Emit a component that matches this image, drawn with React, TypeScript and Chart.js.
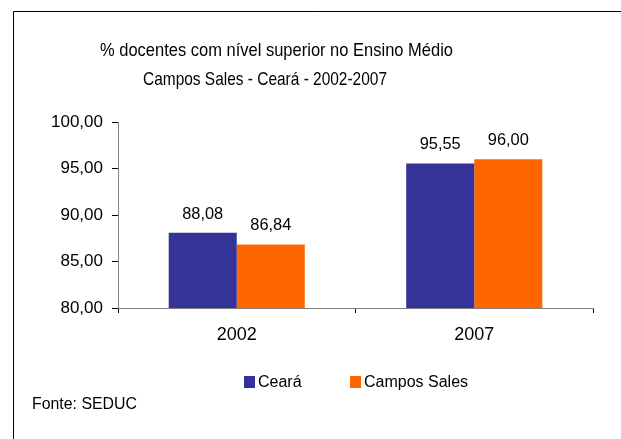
import React, { useEffect, useRef } from "react";
import { Chart, registerables } from "chart.js";

Chart.register(...registerables);

const categories = ["2002", "2007"];
const seriesNames = ["Ceará", "Campos Sales"];
const cearaValues = [88.08, 95.55];
const camposSalesValues = [86.84, 96.0];
const seriesColors = ["#333399", "#FF6600"];
const titleLines = [
  "% docentes com nível superior no Ensino Médio",
  "Campos Sales - Ceará - 2002-2007",
];
const sourceNote = "Fonte: SEDUC";
const yMin = 80;
const yMax = 100;
const yStep = 5;

const FONT = "'Liberation Sans', Arial, sans-serif";
const fmt = (v: number) => v.toFixed(2).replace(".", ",");

const decorPlugin = {
  id: "decor",
  beforeDraw(chart: any) {
    const ctx = chart.ctx;
    ctx.save();
    ctx.fillStyle = "#ffffff";
    ctx.fillRect(0, 0, chart.width, chart.height);
    ctx.strokeStyle = "#000000";
    ctx.lineWidth = 1;
    ctx.beginPath();
    ctx.moveTo(13.5, chart.height);
    ctx.lineTo(13.5, 11.5);
    ctx.lineTo(chart.width, 11.5);
    ctx.stroke();
    ctx.restore();
  },
  afterDatasetsDraw(chart: any) {
    const ctx = chart.ctx;
    ctx.save();
    ctx.fillStyle = "#000000";
    ctx.font = `17px ${FONT}`;
    ctx.textAlign = "center";
    ctx.textBaseline = "alphabetic";
    chart.data.datasets.forEach((ds: any, i: number) => {
      const meta = chart.getDatasetMeta(i);
      meta.data.forEach((el: any, j: number) => {
        ctx.fillText(fmt(ds.data[j]), el.x, el.y - 14, 41);
      });
    });
    ctx.restore();
  },
  afterDraw(chart: any) {
    const ctx = chart.ctx;
    ctx.save();
    ctx.fillStyle = "#000000";
    ctx.textBaseline = "alphabetic";
    ctx.textAlign = "left";
    // title
    ctx.font = `19px ${FONT}`;
    ctx.fillText(titleLines[0], 100, 56, 353);
    ctx.fillText(titleLines[1], 143, 85, 244);
    // legend
    ctx.font = `16px ${FONT}`;
    const legendX = [244, 350];
    chart.data.datasets.forEach((ds: any, i: number) => {
      ctx.fillStyle = ds.backgroundColor;
      ctx.fillRect(legendX[i], 376, 11, 12);
      ctx.fillStyle = "#000000";
      ctx.fillText(ds.label, legendX[i] + 14, 387);
    });
    // source
    ctx.font = `16px ${FONT}`;
    ctx.fillText(sourceNote, 32, 409, 105);
    ctx.restore();
  },
};

export default function App() {
  const ref = useRef<HTMLCanvasElement | null>(null);
  useEffect(() => {
    if (!ref.current) return;
    const chart = new Chart(ref.current, {
      type: "bar",
      data: {
        labels: categories,
        datasets: [
          {
            label: seriesNames[0],
            data: cearaValues,
            backgroundColor: seriesColors[0],
            categoryPercentage: 0.573,
            barPercentage: 1,
          },
          {
            label: seriesNames[1],
            data: camposSalesValues,
            backgroundColor: seriesColors[1],
            categoryPercentage: 0.573,
            barPercentage: 1,
          },
        ],
      },
      options: {
        responsive: false,
        animation: false,
        devicePixelRatio: 1,
        layout: { padding: { top: 122, right: 28, bottom: 91, left: 0 } },
        plugins: {
          legend: { display: false },
          title: { display: false },
          tooltip: { enabled: false },
        },
        scales: {
          x: {
            type: "category",
            offset: true,
            grid: {
              offset: true,
              drawOnChartArea: false,
              drawTicks: true,
              tickLength: 5,
              color: "#000000",
            },
            border: { color: "#808080", width: 1 },
            ticks: {
              color: "#000000",
              font: { size: 18, family: FONT },
              padding: 11,
            },
            afterFit: (s: any) => {
              s.height = 40;
            },
          },
          y: {
            min: yMin,
            max: yMax,
            grid: {
              drawOnChartArea: false,
              drawTicks: true,
              tickLength: 6,
              color: "#000000",
            },
            border: { color: "#808080", width: 1 },
            ticks: {
              stepSize: yStep,
              color: "#000000",
              font: { size: 17, family: FONT },
              padding: 9,
              callback: (v: any) => fmt(Number(v)),
            },
            afterFit: (s: any) => {
              s.width = 118;
            },
          },
        },
      },
      plugins: [decorPlugin],
    });
    return () => chart.destroy();
  }, []);
  return (
    <div style={{ position: "absolute", left: 0, top: 0, width: 621, height: 439 }}>
      <canvas ref={ref} width={621} height={439} style={{ display: "block", width: 621, height: 439 }} />
    </div>
  );
}
